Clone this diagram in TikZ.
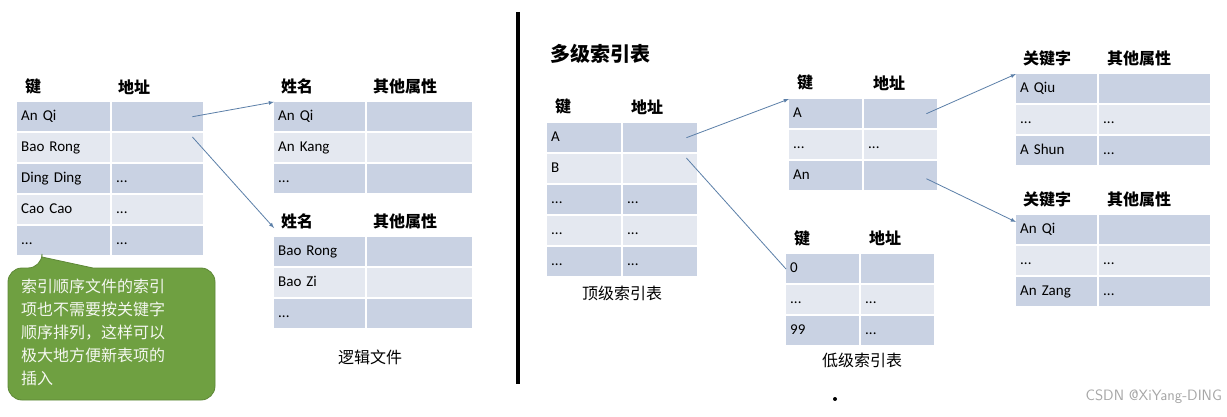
\documentclass[tikz,border=0pt]{standalone}
\usepackage{fontspec}
\setmainfont{Carlito}
\newfontfamily\cjk{Noto Sans CJK SC}
\definecolor{rowa}{HTML}{C9D2E3}
\definecolor{rowb}{HTML}{E4E8F0}
\definecolor{arrowblue}{HTML}{5B7FA8}
\definecolor{notegreen}{HTML}{6FA041}
\newcommand\dd{...}
\tikzset{
  cell/.style={anchor=north west, inner sep=0pt, minimum height=29pt, text height=11pt, text depth=3pt, align=left, font=\fontsize{15}{18}\selectfont},
  head/.style={anchor=west, inner sep=0pt, font=\cjk\fontsize{16}{18}\selectfont\bfseries},
  caption/.style={inner sep=0pt, font=\cjk\fontsize{16}{18}\selectfont},
  link/.style={draw=arrowblue, line width=0.8pt, -latex},
}
% table: name, x, y of first row, width col 1, width col 2, rows
\newcommand\idxtable[6]{%
  \foreach \ka/\kb [count=\i] in {#6} {
    \pgfmathsetmacro\yy{#3+(\i-1)*31}
    \pgfmathparse{mod(\i,2)==1?"rowa":"rowb"}\let\rc\pgfmathresult
    \node[cell, fill=\rc, minimum width=#4pt-2pt, text width=#4pt-10pt] (#1-\i-1) at (#2,\yy) {\hspace*{0pt}\ka};
    \node[cell, fill=\rc, minimum width=#5pt-2pt, text width=#5pt-10pt] (#1-\i-2) at (#2+#4,\yy) {\hspace*{0pt}\kb};
  }}
\begin{document}
\begin{tikzpicture}[x=1pt, y=-1pt]
\useasboundingbox[fill=white] (0,0) rectangle (1227,417);
% left half
\idxtable{keys}{17}{102}{95}{93}{An Qi/{}, Bao Rong/{}, Ding Ding/\dd, Cao Cao/\dd, \dd/\dd}
\node[head] (keysh1) at (25,87) {键};
\node[head] (keysh2) at (118,87) {地址};
\idxtable{fa}{274}{102}{93}{107}{An Qi/{}, An Kang/{}, \dd/{}}
\node[head] (fah1) at (281,86) {姓名};
\node[head] (fah2) at (373,86) {其他属性};
\idxtable{fb}{274}{237}{93}{107}{Bao Rong/{}, Bao Zi/{}, \dd/{}}
\node[head] (fbh1) at (281,221) {姓名};
\node[head] (fbh2) at (373,221) {其他属性};
\node[caption] (logic) at (370,357) {逻辑文件};
\draw[link] ([xshift=-11pt]keys-1-2.east) -- (fa-1-1.north west);
\draw[link] ([xshift=-11pt,yshift=-4pt]keys-2-2.north east) -- ([yshift=9pt]fb-1-1.north west);
% callout
\draw[fill=notegreen, draw=notegreen!85!black, line width=0.8pt, rounded corners=14pt]
  (8,334) -- (8,268) -- (42,268) [sharp corners] -- (42,257) -- (93,268) [rounded corners=14pt] -- (215,268) -- (215,400) -- (8,400) -- cycle;
\node[anchor=north west, inner sep=0pt, text width=195pt, align=left, text=white!92!notegreen,
  font=\cjk\fontsize{16}{23}\selectfont] (note) at (21,279)
  {索引顺序文件的索引\\项也不需要按关键字\\顺序排列，这样可以\\极大地方便新表项的\\插入};
% divider
\draw[line width=4pt] (518,12) -- (518,384);
\node[anchor=west, inner sep=0pt, font=\cjk\fontsize{20}{22}\selectfont\bfseries] (title) at (550,54) {多级索引表};
% right half
\idxtable{top}{547}{123}{76}{76}{A/{}, B/{}, \dd/\dd, \dd/\dd, \dd/\dd}
\node[head] (toph1) at (555,107) {键};
\node[head] (toph2) at (631,107) {地址};
\node[caption] (topcap) at (622,293) {顶级索引表};
\idxtable{mid}{789}{99}{75}{75}{A/{}, \dd/\dd, An/{}}
\node[head] (midh1) at (797,83) {键};
\node[head] (midh2) at (873,83) {地址};
\idxtable{low}{786}{254}{75}{75}{0/{}, \dd/\dd, 99/\dd}
\node[head] (lowh1) at (794,238) {键};
\node[head] (lowh2) at (869,238) {地址};
\node[caption] (lowcap) at (862,360) {低级索引表};
\idxtable{ra}{1016}{74}{83}{113}{A Qiu/{}, \dd/\dd, A Shun/\dd}
\node[head] (rah1) at (1023,58) {关键字};
\node[head] (rah2) at (1107,58) {其他属性};
\idxtable{rb}{1016}{215}{83}{113}{An Qi/{}, \dd/\dd, An Zang/\dd}
\node[head] (rbh1) at (1023,199) {关键字};
\node[head] (rbh2) at (1107,199) {其他属性};
\draw[link] ([xshift=-11pt]top-1-2.east) -- (mid-1-1.north west);
\draw[arrowblue, line width=0.8pt] ([xshift=-11pt,yshift=-4pt]top-2-2.north east) -- ([yshift=-15pt]low-1-1.north west);
\draw[link] ([xshift=-11pt]mid-1-2.east) -- (ra-1-1.north west);
\draw[link] ([xshift=-11pt,yshift=-3pt]mid-3-2.east) -- ([yshift=-7pt]rb-1-1.north west);
\fill (835,399) circle (2pt);
\node[anchor=east, inner sep=0pt, text=gray!70, font=\fontsize{15}{17}\selectfont\sffamily] (mark) at (1222,397) {CSDN @XiYang-DING};
\end{tikzpicture}
\end{document}
